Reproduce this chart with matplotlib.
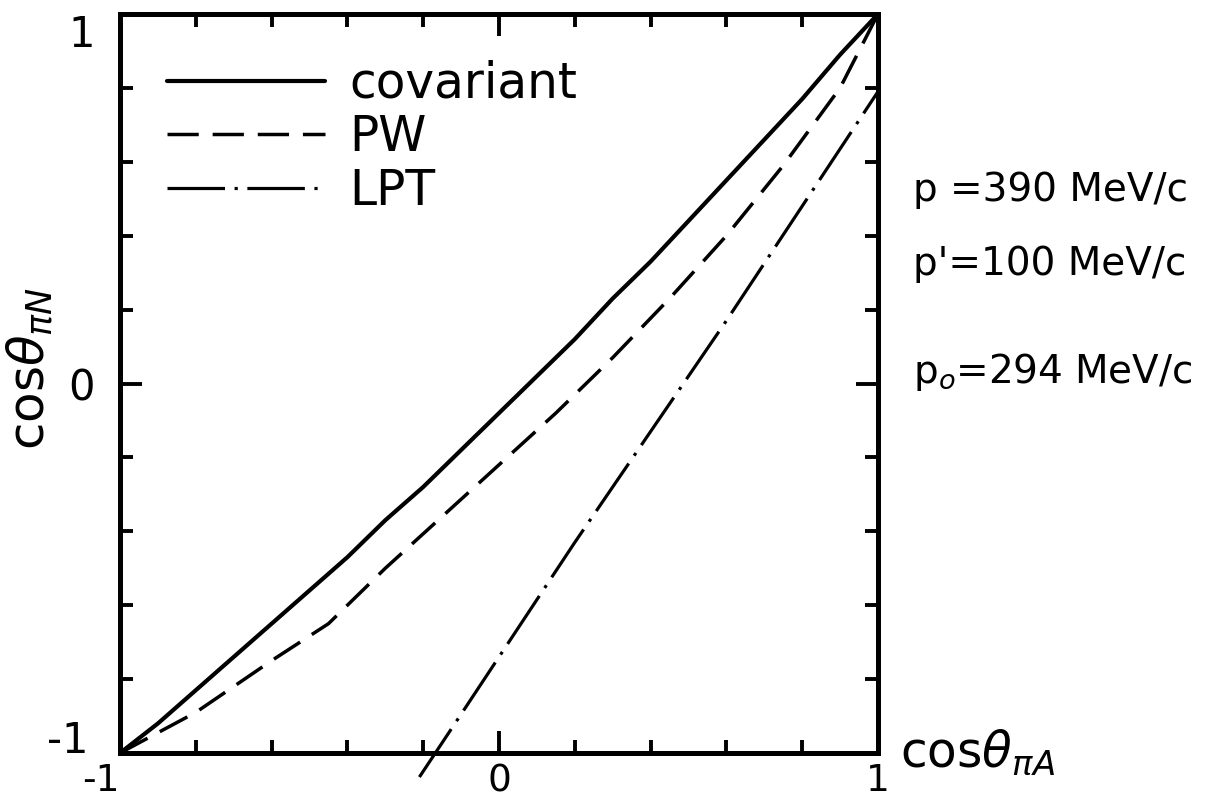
import numpy as np
import matplotlib
matplotlib.use("Agg")
import matplotlib.pyplot as plt

plt.rcParams['font.family'] = ['DejaVu Sans']
plt.rcParams['mathtext.fontset'] = 'dejavusans'

# Curves: cos(theta_piN) vs cos(theta_piA)
cov_x = [-1.0, -0.9, -0.8, -0.7, -0.6, -0.5, -0.4, -0.3, -0.2, -0.1, 0.0,
         0.1, 0.2, 0.3, 0.4, 0.5, 0.6, 0.7, 0.8, 0.9, 1.0]
cov_y = [-1.0, -0.92, -0.83, -0.74, -0.65, -0.56, -0.47, -0.37, -0.28, -0.18, -0.08,
         0.02, 0.12, 0.23, 0.33, 0.44, 0.55, 0.66, 0.77, 0.89, 1.0]

pw_x = [-1.0, -0.8, -0.6, -0.45, -0.3, -0.15, 0.0, 0.15, 0.3, 0.45, 0.6, 0.75, 0.9, 1.0]
pw_y = [-1.0, -0.89, -0.75, -0.65, -0.50, -0.36, -0.22, -0.08, 0.07, 0.23, 0.40, 0.59, 0.80, 1.0]

lpt_x = [-0.21, -0.1, 0.0, 0.2, 0.4, 0.6, 0.8, 1.0]
lpt_y = [-1.065, -0.895, -0.74, -0.43, -0.13, 0.17, 0.48, 0.79]

labels = ["covariant", "PW", "LPT"]
tick_vals = [-1, 0, 1]
tick_text = ["-1", "0", "1"]
kin_text = ["p =390 MeV/c", "p'=100 MeV/c", r"p$_o$=294 MeV/c"]

fig = plt.figure(figsize=(12.05, 8.07), dpi=100)
ax = fig.add_axes([0.0996, 0.0669, 0.629, 0.9157])

ax.plot(cov_x, cov_y, color='black', lw=3.0, solid_capstyle='round', label=labels[0])
ax.plot(pw_x, pw_y, color='black', lw=2.5, dashes=(9, 4), label=labels[1])
ax.plot(lpt_x, lpt_y, color='black', lw=2.3, dashes=(18, 3, 1, 3), clip_on=False, label=labels[2])

ax.set_xlim(-1, 1)
ax.set_ylim(-1, 1)

# thick frame, inward ticks on all sides, long tick at 0
for s in ax.spines.values():
    s.set_linewidth(3.6)
ax.set_xticks(tick_vals)
ax.set_xticklabels(tick_text)
ax.set_yticks(tick_vals)
ax.set_yticklabels(tick_text)
ax.set_xticks(np.arange(-0.8, 0.81, 0.2), minor=True)
ax.set_yticks(np.arange(-0.8, 0.81, 0.2), minor=True)
ax.tick_params(which='both', direction='in', top=True, right=True, width=2.8)
ax.tick_params(which='major', length=16)
ax.tick_params(which='minor', length=9.5)
ax.tick_params(axis='x', which='major', pad=7.5, labelsize=27)
ax.tick_params(axis='y', which='major', pad=18, labelsize=30)

xl = ax.get_xticklabels()
xl[0].set_ha('right')
yl = ax.get_yticklabels()
yl[0].set_va('baseline')
yl[2].set_va('top')
ax.yaxis.get_major_ticks()[0].set_pad(23)

ax.set_ylabel(r"cos$\theta_{\pi N}$", fontsize=36)
ax.yaxis.label.set(ha='center', va='center')
ax.yaxis.set_label_coords(-0.119, 0.52)

ax.text(1.029, -0.019, r"cos$\theta_{\pi A}$", fontsize=35,
        transform=ax.transAxes, ha='left', va='baseline')

leg = ax.legend(loc='upper left', bbox_to_anchor=(0.062, 0.938), frameon=False,
                fontsize=35, handlelength=3.25, handletextpad=0.5,
                labelspacing=0.11, borderpad=0, borderaxespad=0)

for t, yy in zip(kin_text, [0.762, 0.662, 0.516]):
    ax.text(1.046, yy, t, fontsize=28, transform=ax.transAxes,
            ha='left', va='center')

fig.savefig("out.png", dpi=100)
